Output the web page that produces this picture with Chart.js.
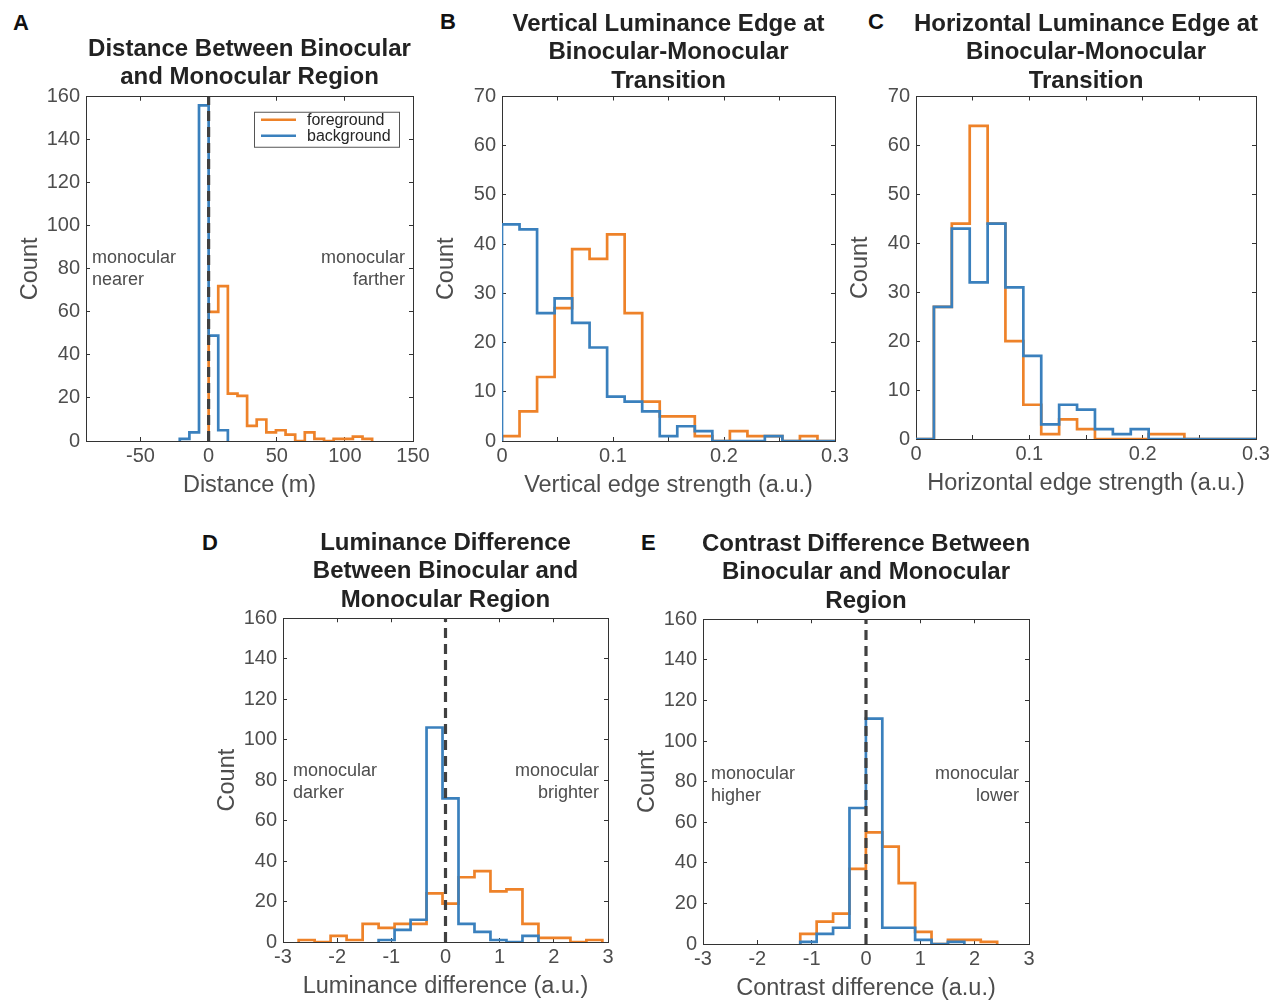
<!DOCTYPE html>
<html>
<head>
<meta charset="utf-8">
<title>Binocular / monocular region statistics</title>
<script src="https://cdn.jsdelivr.net/npm/chart.js@4.4.1/dist/chart.umd.min.js"></script>
<style>
  body { margin: 0; background: #fff; overflow: hidden; }
  #fig { position: relative; width: 1272px; height: 1000px; overflow: hidden; background: #fff; }
  #fig canvas { position: absolute; }
  .letter { position: absolute; font: bold 22px "Liberation Sans", Arial, sans-serif; line-height: 22px; color: #111; }
</style>
</head>
<body>
<div id="fig">
  <div class="letter" style="left:13px;top:12px">A</div>
  <div class="letter" style="left:440px;top:11px">B</div>
  <div class="letter" style="left:868px;top:11px">C</div>
  <div class="letter" style="left:202px;top:532px">D</div>
  <div class="letter" style="left:641px;top:532px">E</div>
</div>
<script>
// series names and colours
const seriesNames = ["foreground", "background"];
const fgColor = "#ee8229";
const bgColor = "#3a80bd";

// A: distance between binocular and monocular region (m), bin edges and counts
const distEdges = [-21.18, -14.12, -7.06, 0, 7.06, 14.12, 21.18, 28.24, 35.29, 42.35, 49.41,
  56.47, 63.53, 70.59, 77.65, 84.71, 91.76, 98.82, 105.88, 112.94, 120.0];
const distFg = [null, null, null, 60, 72, 22, 21, 7, 10, 4, 5, 3, 0, 4, 1, 0, 1, 1, 2, 1];
const distBg = [1, 4, 156, 49, 5, null, null, null, null, null, null, null, null, null, null, null, null, null, null, null];
const distTicks = [-50, 0, 50, 100, 150];
const distTickLabels = ["-50", "0", "50", "100", "150"];

// B and C: edge strength bins (same edges)
const edgeEdges = [0, 0.0158, 0.0316, 0.0474, 0.0632, 0.0789, 0.0947, 0.1105, 0.1263, 0.1421,
  0.1579, 0.1737, 0.1895, 0.2053, 0.2211, 0.2368, 0.2526, 0.2684, 0.2842, 0.3];
const vertFg = [1, 6, 13, 27, 39, 37, 42, 26, 8, 5, 5, 1, 0, 2, 1, 1, 0, 1, 0];
const vertBg = [44, 43, 26, 29, 24, 19, 9, 8, 6, 1, 3, 2, 0, 0, 0, 1, 0, 0, 0];
const horzFg = [0, 27, 44, 64, 44, 20, 7, 1, 4, 2, 0, 0, 0, 1, 1, 0, 0, 0, 0];
const horzBg = [0, 27, 43, 32, 44, 31, 17, 3, 7, 6, 2, 1, 2, 0, 0, 0, 0, 0, 0];
const edgeTicks = [0, 0.05, 0.1, 0.15, 0.2, 0.25, 0.3];
const edgeTickLabels = ["0", "", "0.1", "", "0.2", "", "0.3"];

// D: luminance difference
const lumEdges = [-2.711, -2.416, -2.121, -1.826, -1.530, -1.235, -0.940, -0.645, -0.350, -0.055,
  0.240, 0.535, 0.830, 1.125, 1.421, 1.716, 2.011, 2.306, 2.601, 2.896];
const lumFg = [1, 0, 3, 1, 9, 7, 9, 9, 24, 19, 32, 35, 25, 26, 9, 2, 2, 0, 1];
const lumBg = [null, null, null, null, null, 1, 6, 11, 106, 71, 9, 5, 1, 0, 3, null, null, null, null];

// E: contrast difference
const conEdges = [-1.210, -0.908, -0.606, -0.304, -0.002, 0.300, 0.602, 0.904, 1.206, 1.508, 1.810, 2.112, 2.414];
const conFg = [5, 11, 15, 37, 55, 48, 30, 6, 0, 2, 2, 1];
const conBg = [1, 5, 8, 67, 111, 8, 8, 2, 0, 1, null, null];

const diffTicks = [-3, -2, -1, 0, 1, 2, 3];
const diffTickLabels = ["-3", "-2", "-1", "0", "1", "2", "3"];

const countTicks160 = [0, 20, 40, 60, 80, 100, 120, 140, 160];
const countTicks70 = [0, 10, 20, 30, 40, 50, 60, 70];

Chart.defaults.font.family = '"Liberation Sans", Arial, sans-serif';

// turn bin edges + counts into the corner points of a stairs outline
function stairPoints(edges, counts) {
  const first = counts.findIndex(c => c !== null);
  let last = counts.length - 1;
  while (counts[last] === null) last--;
  const pts = [{ x: edges[first], y: 0 }];
  for (let i = first; i <= last; i++) pts.push({ x: edges[i], y: counts[i] });
  pts.push({ x: edges[last + 1], y: 0 });
  return pts;
}

// text notes on both sides of the zero line
const sideNotes = {
  id: "sideNotes",
  afterDatasetsDraw(chart, args, opts) {
    if (!opts.left) return;
    const { ctx, chartArea: a } = chart;
    const y0 = a.top + a.height * opts.yFrac;
    ctx.save();
    ctx.font = '18px "Liberation Sans", Arial, sans-serif';
    ctx.fillStyle = "#4d4d4d";
    ctx.textBaseline = "middle";
    ctx.textAlign = "left";
    opts.left.forEach((line, i) => ctx.fillText(line, a.left + opts.inset[0], y0 + i * 22));
    ctx.textAlign = "right";
    opts.right.forEach((line, i) => ctx.fillText(line, a.right - opts.inset[1], y0 + i * 22));
    ctx.restore();
  }
};

// boxed legend in the upper right corner (panel A only)
const boxLegend = {
  id: "boxLegend",
  afterDatasetsDraw(chart, args, opts) {
    const { ctx, chartArea: a } = chart;
    const w = 145, h = 35;
    const x = a.right - 14 - w, y = a.top + 15;
    ctx.save();
    ctx.fillStyle = "#fff";
    ctx.fillRect(x, y, w, h);
    ctx.strokeStyle = "#555";
    ctx.lineWidth = 1;
    ctx.strokeRect(x + 0.5, y + 0.5, w, h);
    ctx.font = '16px "Liberation Sans", Arial, sans-serif';
    ctx.textBaseline = "middle";
    ctx.textAlign = "left";
    opts.items.forEach((it, i) => {
      const ly = y + 8 + i * 16;
      ctx.strokeStyle = it.color;
      ctx.lineWidth = 2.5;
      ctx.beginPath();
      ctx.moveTo(x + 7, ly);
      ctx.lineTo(x + 42, ly);
      ctx.stroke();
      ctx.fillStyle = "#262626";
      ctx.fillText(it.text, x + 53, ly + 1);
    });
    ctx.restore();
  }
};

function makePanel(p) {
  const plotW = p.right - p.left;
  const plotH = p.bottom - p.top;
  const titleH = p.title.length * 28.5 + p.titleGap;
  const canvas = document.createElement("canvas");
  canvas.width = plotW + 160;
  canvas.height = Math.round(titleH + plotH + 62);
  canvas.style.left = (p.left - 80) + "px";
  canvas.style.top = (p.top - titleH) + "px";
  document.getElementById("fig").appendChild(canvas);

  const setTicks = (values) => (s) => { s.ticks = values.map(v => ({ value: v })); };
  const gridOpts = { drawOnChartArea: false, tickLength: -4, color: "#333" };
  const borderOpts = { color: "#333", width: 1 };
  const tickFont = { size: 20 };
  const axisTitleFont = { size: 23.5 };

  const datasets = [
    {
      label: seriesNames[0], data: stairPoints(p.edges, p.fg), borderColor: fgColor,
      borderWidth: 2.7, stepped: "before", pointRadius: 0, fill: false, order: 2,
    },
    {
      label: seriesNames[1], data: stairPoints(p.edges, p.bg), borderColor: bgColor,
      borderWidth: 2.7, stepped: "before", pointRadius: 0, fill: false, order: 1,
    },
  ];
  if (p.zeroLine) {
    datasets.push({
      label: "zero", data: [{ x: 0, y: 0 }, { x: 0, y: p.yMax }], borderColor: "#404040",
      borderWidth: 3.2, borderDash: [10, 6], pointRadius: 0, fill: false, order: 0,
    });
  }

  const plugins = [sideNotes];
  if (p.legend) plugins.push(boxLegend);

  return new Chart(canvas.getContext("2d"), {
    type: "line",
    data: { datasets: datasets },
    plugins: plugins,
    options: {
      responsive: false,
      animation: false,
      layout: { padding: 0 },
      scales: {
        x: {
          type: "linear", position: "bottom", min: p.xMin, max: p.xMax,
          afterBuildTicks: setTicks(p.xTicks),
          afterFit: (s) => { s.height = 62; },
          grid: gridOpts, border: borderOpts,
          ticks: { font: tickFont, color: "#4d4d4d", padding: 7, maxRotation: 0, autoSkip: false,
            callback: (v, i) => p.xLabels[i] },
          title: { display: true, text: p.xTitle, font: axisTitleFont, color: "#4d4d4d", padding: { top: 0, bottom: 3 } },
        },
        x2: {
          type: "linear", position: "top", min: p.xMin, max: p.xMax,
          afterBuildTicks: setTicks(p.xTicks),
          afterFit: (s) => { s.height = 0; },
          grid: gridOpts, border: borderOpts, ticks: { display: false },
        },
        y: {
          type: "linear", position: "left", min: 0, max: p.yMax,
          afterBuildTicks: setTicks(p.yTicks),
          afterFit: (s) => { s.width = 80; },
          grid: gridOpts, border: borderOpts,
          ticks: { font: tickFont, color: "#4d4d4d", padding: 10, callback: (v) => String(v) },
          title: { display: true, text: "Count", font: axisTitleFont, color: "#4d4d4d", padding: { top: 10, bottom: 0 } },
        },
        y2: {
          type: "linear", position: "right", min: 0, max: p.yMax,
          afterBuildTicks: setTicks(p.yTicks),
          afterFit: (s) => { s.width = 80; },
          grid: gridOpts, border: borderOpts, ticks: { display: false },
        },
      },
      plugins: {
        title: {
          display: true, text: p.title, color: "#222",
          font: { size: 24, weight: "bold", lineHeight: "28.5px" },
          padding: { top: 0, bottom: p.titleGap },
        },
        legend: { display: false },
        tooltip: { enabled: false },
        sideNotes: p.notes || {},
        boxLegend: { items: [{ text: seriesNames[0], color: fgColor }, { text: seriesNames[1], color: bgColor }] },
      },
    },
  });
}

// A
makePanel({
  left: 86, top: 97, right: 413, bottom: 441, titleGap: 4.75,
  title: ["Distance Between Binocular", "and Monocular Region"],
  edges: distEdges, fg: distFg, bg: distBg,
  xMin: -90, xMax: 150, xTicks: distTicks, xLabels: distTickLabels, xTitle: "Distance (m)",
  yMax: 160, yTicks: countTicks160, zeroLine: true, legend: true,
  notes: { yFrac: 0.468, inset: [6, 8], left: ["monocular", "nearer"], right: ["monocular", "farther"] },
});

// B
makePanel({
  left: 502, top: 96, right: 835, bottom: 440, titleGap: 1,
  title: ["Vertical Luminance Edge at", "Binocular-Monocular", "Transition"],
  edges: edgeEdges, fg: vertFg, bg: vertBg,
  xMin: 0, xMax: 0.3, xTicks: edgeTicks, xLabels: edgeTickLabels, xTitle: "Vertical edge strength (a.u.)",
  yMax: 70, yTicks: countTicks70,
});

// C
makePanel({
  left: 916, top: 96, right: 1256, bottom: 438, titleGap: 1,
  title: ["Horizontal Luminance Edge at", "Binocular-Monocular", "Transition"],
  edges: edgeEdges, fg: horzFg, bg: horzBg,
  xMin: 0, xMax: 0.3, xTicks: edgeTicks, xLabels: edgeTickLabels, xTitle: "Horizontal edge strength (a.u.)",
  yMax: 70, yTicks: countTicks70,
});

// D
makePanel({
  left: 283, top: 618, right: 608, bottom: 942, titleGap: 3.75,
  title: ["Luminance Difference", "Between Binocular and", "Monocular Region"],
  edges: lumEdges, fg: lumFg, bg: lumBg,
  xMin: -3, xMax: 3, xTicks: diffTicks, xLabels: diffTickLabels, xTitle: "Luminance difference (a.u.)",
  yMax: 160, yTicks: countTicks160, zeroLine: true,
  notes: { yFrac: 0.472, inset: [10, 9], left: ["monocular", "darker"], right: ["monocular", "brighter"] },
});

// E
makePanel({
  left: 703, top: 619, right: 1029, bottom: 944, titleGap: 3.75,
  title: ["Contrast Difference Between", "Binocular and Monocular", "Region"],
  edges: conEdges, fg: conFg, bg: conBg,
  xMin: -3, xMax: 3, xTicks: diffTicks, xLabels: diffTickLabels, xTitle: "Contrast difference (a.u.)",
  yMax: 160, yTicks: countTicks160, zeroLine: true,
  notes: { yFrac: 0.477, inset: [8, 10], left: ["monocular", "higher"], right: ["monocular", "lower"] },
});
</script>
</body>
</html>
